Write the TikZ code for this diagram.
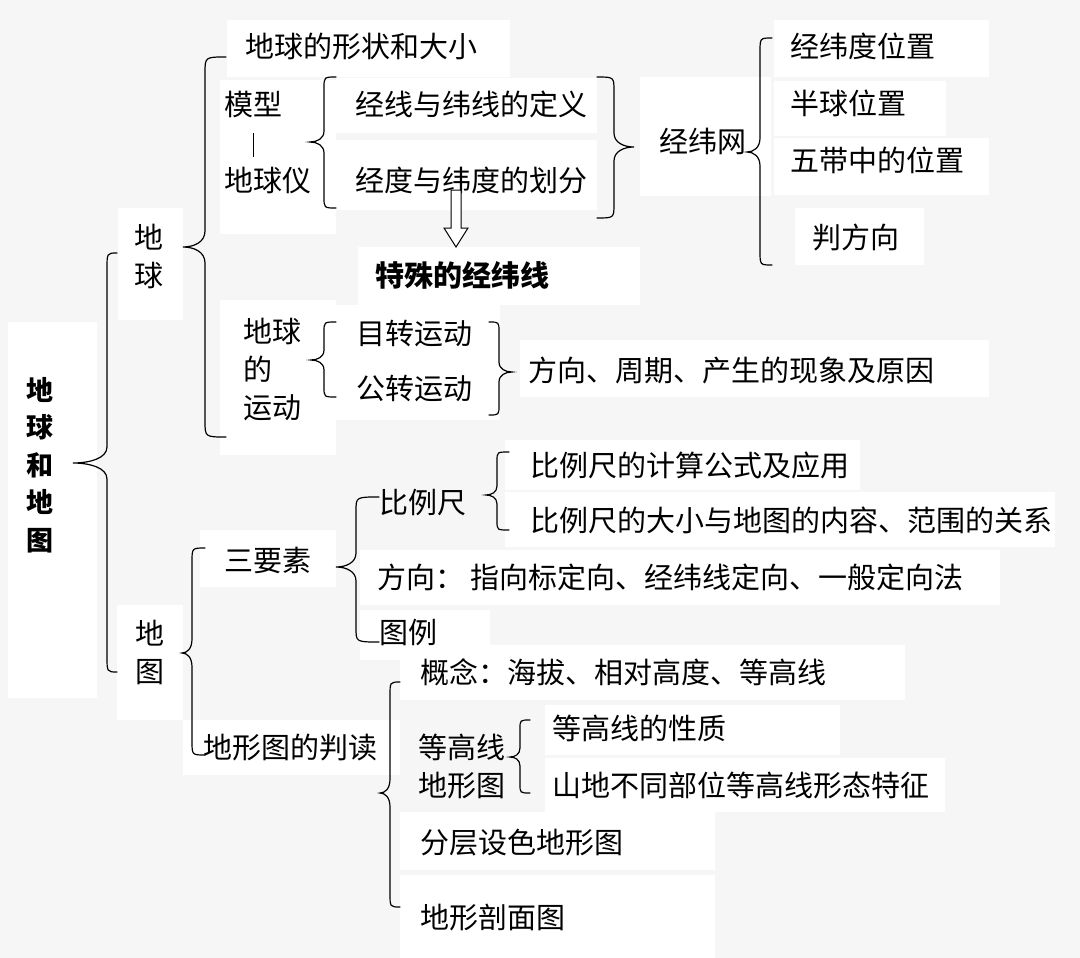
\documentclass[tikz,border=0pt]{standalone}
\usepackage{fontspec}
\setmainfont{Noto Sans CJK SC}
\definecolor{bg}{HTML}{F7F6F7}
\newcommand\fs{\fontsize{29}{38}\selectfont}
% brace: x_end, x_vertical, x_tip, y_top, y_tip, y_bottom, radius
\newcommand\brc[7]{%
  \draw[brc] (#1,#4) .. controls (#2,#4) .. (#2,#4+#7) -- (#2,#5-#7)
    .. controls (#2,#5-0.3*#7) and (#2/2+#3/2,#5) .. (#3,#5)
    .. controls (#2/2+#3/2,#5) and (#2,#5+0.3*#7) .. (#2,#5+#7)
    -- (#2,#6-#7) .. controls (#2,#6) .. (#1,#6);}
\begin{document}
\begin{tikzpicture}[x=1pt,y=-1pt,
  t/.style={anchor=west,inner sep=0pt,font=\fs,text height=25pt,text depth=3pt},
  tv/.style={anchor=center,inner sep=0pt,font=\fs,align=left},
  brc/.style={line width=1.2pt,line cap=round},
  wbox/.style={fill=white,draw=none}]
\fill[bg] (0,0) rectangle (1080,958);
\useasboundingbox (0,0) rectangle (1080,958);
% white boxes
\fill[wbox] (227,20) rectangle (510,77);
\fill[wbox] (220,80) rectangle (336,234);
\fill[wbox] (336,78) rectangle (597,133);
\fill[wbox] (336,140) rectangle (597,210);
\fill[wbox] (640,77) rectangle (771,196);
\fill[wbox] (774,20) rectangle (989,77);
\fill[wbox] (774,81) rectangle (946,136);
\fill[wbox] (774,138) rectangle (989,195);
\fill[wbox] (795,208) rectangle (924,265);
\fill[wbox] (358,247) rectangle (640,305);
\fill[wbox] (118,208) rectangle (183,320);
\fill[wbox] (8,322) rectangle (97,698);
\fill[wbox] (220,300) rectangle (336,455);
\fill[wbox] (336,305) rectangle (500,420);
\fill[wbox] (520,340) rectangle (989,397);
\fill[wbox] (505,440) rectangle (860,490);
\fill[wbox] (505,492) rectangle (1055,547);
\fill[wbox] (200,530) rectangle (336,587);
\fill[wbox] (360,550) rectangle (1000,605);
\fill[wbox] (360,610) rectangle (490,660);
\fill[wbox] (117,605) rectangle (183,720);
\fill[wbox] (400,645) rectangle (905,700);
\fill[wbox] (183,720) rectangle (400,775);
\fill[wbox] (545,705) rectangle (840,755);
\fill[wbox] (545,758) rectangle (945,812);
\fill[wbox] (400,812) rectangle (715,870);
\fill[wbox] (400,875) rectangle (715,958);

% texts
\node[tv,font=\fontsize{27}{37.5}\selectfont\bfseries,align=center] (root) at (40,465) {地\\球\\和\\地\\图};
\node[tv] (diqiu) at (149,256) {地\\球};
\node[tv] (ditu) at (150,652) {地\\图};
\node[t] (xz) at (245,47) {地球的形状和大小};
\node[t] (mx) at (224,105) {模型};
\node[t] (dqy) at (224,180) {地球仪};
\draw[line width=1pt] (mx.south) ++(0,14) -- ++(0,24);
\node[t] (jxdy) at (355,105) {经线与纬线的定义};
\node[t] (jdhf) at (355,180) {经度与纬度的划分};
\node[t] (jww) at (659,142) {经纬网};
\node[t] (jwd) at (790,47) {经纬度位置};
\node[t] (bq) at (790,103) {半球位置};
\node[t] (wd) at (790,160) {五带中的位置};
\node[t] (pfx) at (812,237) {判方向};
\node[t,font=\fs\bfseries] (tsj) at (375,275) {特殊的经纬线};
\node[tv] (yd) at (272,370) {地球\\的\\运动};
\node[t] (zz) at (356,333) {目转运动};
\node[t] (gz) at (356,388) {公转运动};
\node[t] (fx) at (528,370) {方向、周期、产生的现象及原因};
\node[t] (blc) at (379,502) {比例尺};
\node[t] (blc1) at (530,465) {比例尺的计算公式及应用};
\node[t] (blc2) at (530,520) {比例尺的大小与地图的内容、范围的关系};
\node[t] (sys) at (224,560) {三要素};
\node[t] (fxl) at (377,577) {方向：};
\node[t] (fxc) at (470,577) {指向标定向、经纬线定向、一般定向法};
\node[t] (tl) at (379,632) {图例};
\node[t] (dxt) at (203,747) {地形图的判读};
\node[t] (gn) at (420,672) {概念：海拔、相对高度、等高线};
\node[tv] (dgx) at (462,766) {等高线\\地形图};
\node[t] (xz2) at (552,728) {等高线的性质};
\node[t] (sd) at (552,785) {山地不同部位等高线形态特征};
\node[t] (fc) at (420,842) {分层设色地形图};
\node[t] (pm) at (420,917) {地形剖面图};

% hollow arrow
\draw[line width=1pt,fill=white,line join=miter] (451,190) -- (461,190) -- (461,228) -- (468,228) -- (456,247) -- (444,228) -- (451,228) -- cycle;

% braces
\brc{117}{107}{73}{253}{463}{672}{16}
\brc{226}{205}{183}{57}{247}{437}{16}
\brc{336}{324}{310}{77}{142}{208}{11}
\brc{597}{614}{634}{77}{147}{218}{14}
\brc{772}{760}{747}{38}{152}{265}{14}
\brc{336}{324}{311}{322}{360}{397}{10}
\brc{489}{499}{512}{322}{372}{415}{10}
\brc{205}{192}{182}{548}{653}{755}{14}
\brc{379}{356}{336}{497}{567}{642}{14}
\brc{509}{497}{486}{452}{495}{530}{9}
\brc{400}{390}{380}{682}{793}{907}{14}
\brc{530}{520}{510}{720}{757}{793}{9}
\end{tikzpicture}
\end{document}
